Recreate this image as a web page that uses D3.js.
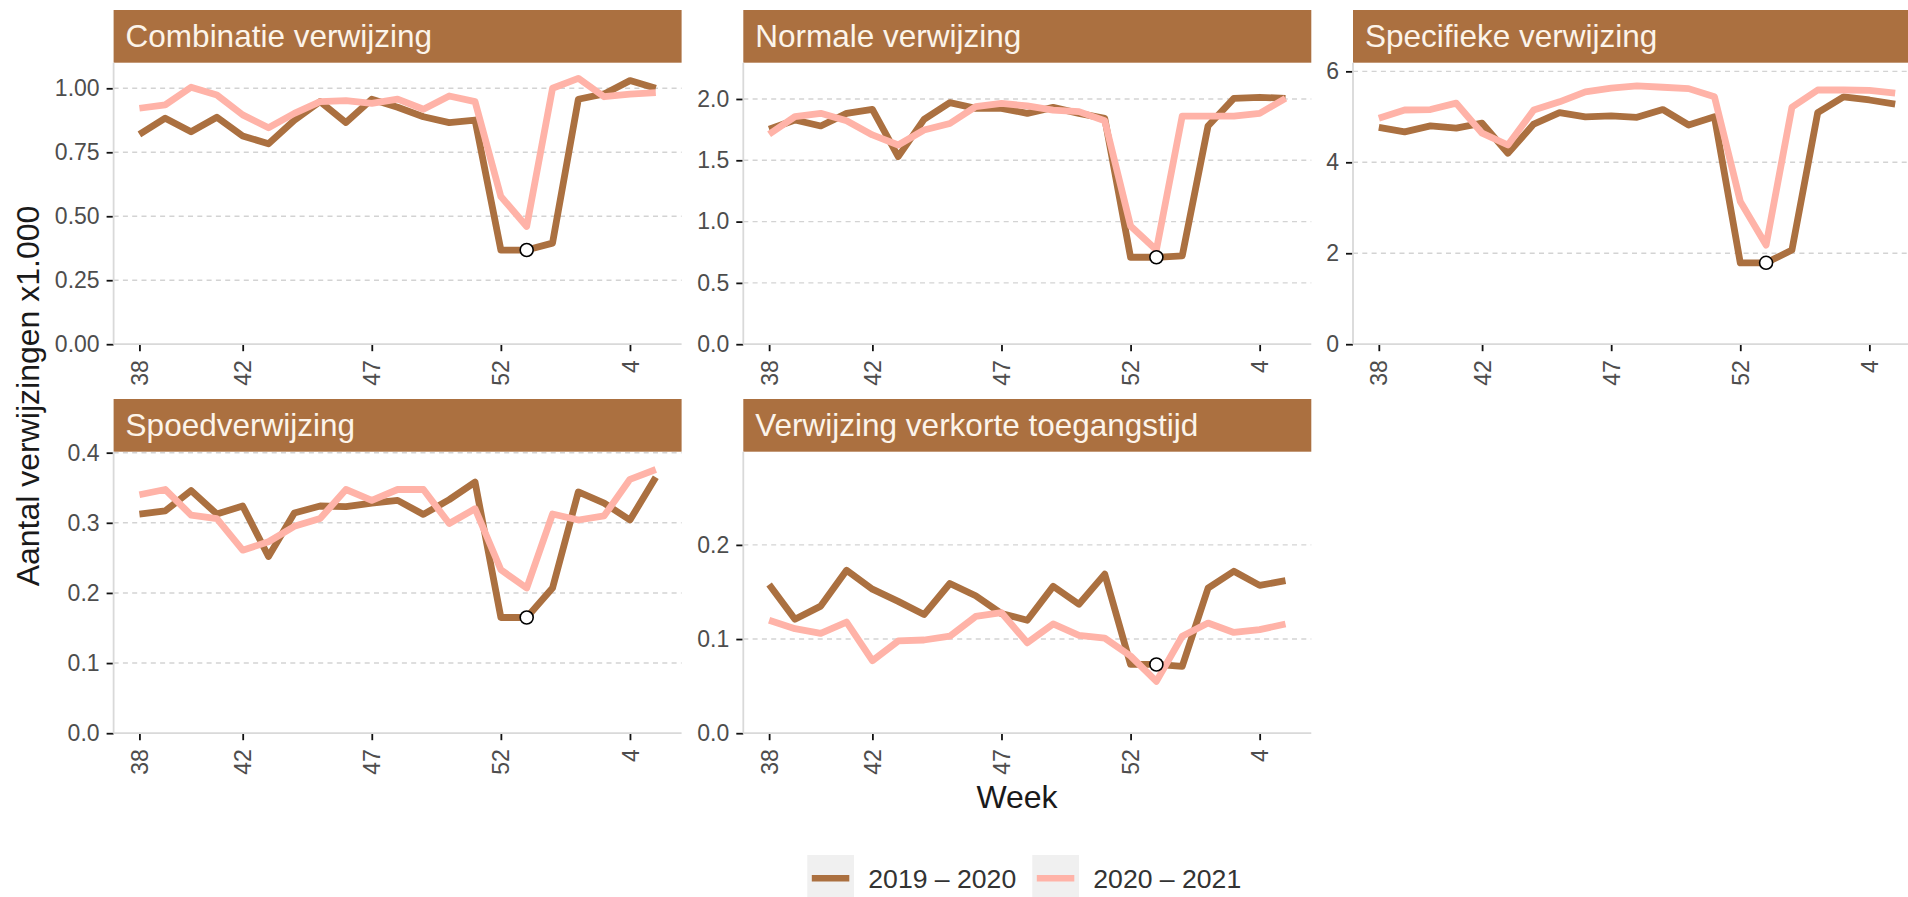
<!DOCTYPE html>
<html>
<head>
<meta charset="utf-8">
<script src="https://cdn.jsdelivr.net/npm/d3@7"></script>
<style>
  body { margin: 0; background: #fff; }
  svg { display: block; font-family: "Liberation Sans", Arial, sans-serif; }
</style>
</head>
<body>
<svg id="chart" width="1908" height="897"></svg>
<script>
// weeks: 38..53 of the first year, then 1..5
var weeks = ["38","39","40","41","42","43","44","45","46","47","48","49","50","51","52","53","1","2","3","4","5"];
var weekTicks = ["38","42","47","52","4"];
var seasons = ["2019 \u2013 2020", "2020 \u2013 2021"];

var combinatie2019 = [0.82,0.883,0.83,0.887,0.814,0.783,0.875,0.948,0.866,0.957,0.926,0.889,0.866,0.876,0.368,0.368,0.395,0.957,0.978,1.03,1.00];
var combinatie2020 = [0.922,0.935,1.004,0.974,0.896,0.846,0.902,0.948,0.952,0.941,0.958,0.918,0.97,0.948,0.577,0.46,1.00,1.039,0.967,0.977,0.983];

var normale2019 = [1.753,1.829,1.78,1.883,1.916,1.53,1.834,1.97,1.924,1.924,1.883,1.932,1.883,1.842,0.709,0.709,0.72,1.78,2.005,2.014,2.005];
var normale2020 = [1.712,1.856,1.883,1.823,1.707,1.625,1.747,1.80,1.937,1.965,1.943,1.91,1.897,1.823,0.965,0.769,1.861,1.861,1.861,1.883,2.005];

var specifiek2019 = [4.77,4.67,4.80,4.75,4.86,4.20,4.84,5.09,5.00,5.02,4.99,5.16,4.82,5.00,1.79,1.79,2.07,5.09,5.44,5.37,5.28];
var specifiek2020 = [4.97,5.15,5.16,5.30,4.64,4.38,5.15,5.33,5.55,5.63,5.68,5.65,5.62,5.44,3.14,2.18,5.21,5.59,5.59,5.58,5.52];

var spoed2019 = [0.3125,0.317,0.346,0.3125,0.324,0.252,0.314,0.324,0.323,0.328,0.332,0.312,0.333,0.358,0.165,0.165,0.207,0.344,0.328,0.304,0.365];
var spoed2020 = [0.340,0.3475,0.311,0.306,0.261,0.273,0.295,0.306,0.3475,0.332,0.3475,0.3475,0.299,0.32,0.233,0.207,0.3125,0.304,0.31,0.362,0.376];

var verkort2019 = [0.158,0.121,0.135,0.173,0.153,0.140,0.126,0.159,0.146,0.127,0.120,0.156,0.137,0.169,0.073,0.073,0.071,0.154,0.172,0.157,0.162];
var verkort2020 = [0.120,0.111,0.106,0.118,0.077,0.098,0.099,0.103,0.124,0.128,0.096,0.116,0.104,0.101,0.082,0.055,0.103,0.117,0.107,0.110,0.116];

// week of the marked (lowest) point
var markWeek = "53";

var panels = [
  { title: "Combinatie verwijzing", a: combinatie2019, b: combinatie2020, ymax: 1.10, ticks: [0,0.25,0.5,0.75,1], fmt: ".2f", left: 113.6, top: 10 },
  { title: "Normale verwijzing", a: normale2019, b: normale2020, ymax: 2.296, ticks: [0,0.5,1,1.5,2], fmt: ".1f", left: 743.3, top: 10 },
  { title: "Specifieke verwijzing", a: specifiek2019, b: specifiek2020, ymax: 6.19, ticks: [0,2,4,6], fmt: "d", left: 1353, top: 10 },
  { title: "Spoedverwijzing", a: spoed2019, b: spoed2020, ymax: 0.4014, ticks: [0,0.1,0.2,0.3,0.4], fmt: ".1f", left: 113.6, top: 399 },
  { title: "Verwijzing verkorte toegangstijd", a: verkort2019, b: verkort2020, ymax: 0.299, ticks: [0,0.1,0.2], fmt: ".1f", left: 743.3, top: 399 }
];

var colors = ["#AB7040", "#FFB3A8"];
var stripH = 52.7, panelW = 568, panelH = 281.5;

var svg = d3.select("#chart");

panels.forEach(function(p) {
  var g = svg.append("g").attr("transform", "translate(" + p.left + "," + p.top + ")");

  // strip
  g.append("rect").attr("width", panelW).attr("height", stripH).attr("fill", "#AB7040");
  g.append("text").attr("x", 12).attr("y", 37).attr("fill", "#FCF4EA")
    .style("font-size", "31.5px").text(p.title);

  var plot = g.append("g").attr("transform", "translate(0," + stripH + ")");

  var x = d3.scaleLinear().domain([-1, 21]).range([0, panelW]);
  var y = d3.scaleLinear().domain([0, p.ymax]).range([panelH, 0]);

  plot.selectAll(".grid").data(p.ticks.filter(function(t) { return t > 0; }))
    .enter().append("line")
    .attr("x1", 0).attr("x2", panelW)
    .attr("y1", function(d) { return y(d); }).attr("y2", function(d) { return y(d); })
    .attr("stroke", "#D3D3D3").attr("stroke-width", 1.4).attr("stroke-dasharray", "5,4.3");

  // axes
  var yAxis = d3.axisLeft(y).tickValues(p.ticks).tickFormat(d3.format(p.fmt)).tickSize(7).tickPadding(7);
  var ya = plot.append("g").call(yAxis);
  var xAxis = d3.axisBottom(x)
    .tickValues(weekTicks.map(function(w) { return weeks.indexOf(w); }))
    .tickFormat(function(i) { return weeks[i]; }).tickSize(7).tickPadding(0);
  var xa = plot.append("g").attr("transform", "translate(0," + panelH + ")").call(xAxis);

  [ya, xa].forEach(function(a) {
    a.select(".domain").remove();
    a.selectAll(".tick line").attr("stroke", "#111").attr("stroke-width", 1.8);
    a.selectAll(".tick text").attr("fill", "#4D4D4D").style("font-size", "23px").style("font-family", "Liberation Sans, Arial, sans-serif");
  });
  xa.selectAll(".tick text")
    .attr("transform", "rotate(-90)")
    .attr("text-anchor", "end")
    .attr("x", -16).attr("y", 0).attr("dy", "0.35em");

  plot.append("line").attr("x1", 0).attr("x2", 0).attr("y1", 0).attr("y2", panelH)
    .attr("stroke", "#D9D9D9").attr("stroke-width", 1.8);
  plot.append("line").attr("x1", 0).attr("x2", panelW).attr("y1", panelH).attr("y2", panelH)
    .attr("stroke", "#D9D9D9").attr("stroke-width", 1.8);

  var line = d3.line()
    .x(function(d, i) { return x(i); })
    .y(function(d) { return y(d); });

  [p.a, p.b].forEach(function(series, k) {
    plot.append("path").datum(series)
      .attr("d", line)
      .attr("fill", "none")
      .attr("stroke", colors[k])
      .attr("stroke-width", 6.8)
      .attr("stroke-linejoin", "round");
  });

  var mi = weeks.indexOf(markWeek);
  plot.append("circle")
    .attr("cx", x(mi)).attr("cy", y(p.a[mi])).attr("r", 6.5)
    .attr("fill", "#fff").attr("stroke", "#000").attr("stroke-width", 1.6);
});

// axis titles
svg.append("text")
  .attr("transform", "translate(38.5,396) rotate(-90)")
  .attr("text-anchor", "middle").attr("fill", "#1A1A1A")
  .style("font-size", "32px").text("Aantal verwijzingen x1.000");

svg.append("text")
  .attr("x", 1017).attr("y", 808)
  .attr("text-anchor", "middle").attr("fill", "#1A1A1A")
  .style("font-size", "32px").text("Week");

// legend
var legendX = [807.3, 1032.3];
var legend = svg.selectAll(".legend").data(seasons).enter().append("g")
  .attr("transform", function(d, i) { return "translate(" + legendX[i] + ",855)"; });
legend.append("rect").attr("width", 46.7).attr("height", 42).attr("fill", "#F0F0F0");
legend.append("line").attr("x1", 4.5).attr("x2", 42).attr("y1", 23.3).attr("y2", 23.3)
  .attr("stroke", function(d, i) { return colors[i]; }).attr("stroke-width", 6.5);
legend.append("text").attr("x", 61).attr("y", 33.3).attr("fill", "#333")
  .style("font-size", "26.6px").text(function(d) { return d; });
</script>
</body>
</html>
